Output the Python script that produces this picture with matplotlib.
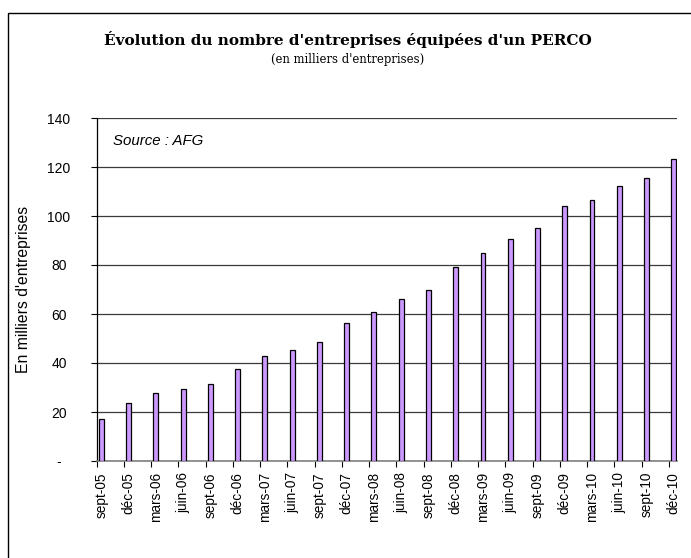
import matplotlib
matplotlib.use("Agg")
import matplotlib.pyplot as plt
from matplotlib.patches import Rectangle
from matplotlib.ticker import FixedLocator, FuncFormatter

categories = ["sept-05", "déc-05", "mars-06", "juin-06", "sept-06", "déc-06",
              "mars-07", "juin-07", "sept-07", "déc-07", "mars-08", "juin-08",
              "sept-08", "déc-08", "mars-09", "juin-09", "sept-09", "déc-09",
              "mars-10", "juin-10", "sept-10", "déc-10"]
values = [17.1, 23.5, 27.6, 29.3, 31.3, 37.6, 42.7, 45.4, 48.4, 56.2, 60.9,
          66.1, 69.8, 79.1, 84.8, 90.5, 95.2, 104.1, 106.7, 112.4, 115.5, 123.3]
y_ticks = [0, 20, 40, 60, 80, 100, 120, 140]

title = "Évolution du nombre d'entreprises équipées d'un PERCO"
subtitle = "(en milliers d'entreprises)"
ylabel = "En milliers d'entreprises"
source = "Source : AFG"

W, H = 691, 558
fig = plt.figure(figsize=(W / 100, H / 100), dpi=100)
fig.patch.set_facecolor("white")

# outer frame (cropped at right and bottom)
fig.add_artist(Rectangle((8 / W, -0.05), 1.2, (H - 12.7) / H + 0.05,
                         transform=fig.transFigure, fill=False,
                         edgecolor="black", linewidth=1.0))

ax_l, ax_r, ax_t, ax_b = 96.5, 677, 118, 461
ax = fig.add_axes([ax_l / W, (H - ax_b) / H, (ax_r - ax_l) / W, (ax_b - ax_t) / H])

n = len(categories)
offset = 0.18
xs = [i + offset for i in range(n)]
ax.bar(xs, values, width=0.18, color="#cc99ff", edgecolor="black",
       linewidth=0.9, zorder=3)

ax.set_xlim(0, 21.3)
ax.set_ylim(0, 140)

ax.yaxis.set_major_locator(FixedLocator(y_ticks))
ax.yaxis.set_major_formatter(FuncFormatter(lambda v, p: "-" if v == 0 else f"{int(v)}"))
ax.grid(axis="y", color="#3a3a3a", linewidth=0.9, zorder=1)
ax.tick_params(axis="y", length=4, width=0.8, direction="out", pad=23,
               labelsize=10, colors="black")
for lbl in ax.get_yticklabels():
    lbl.set_fontfamily("Liberation Sans")
    lbl.set_horizontalalignment("center")

ax.set_xticks(xs)
ax.set_xticklabels(categories, rotation=90, fontsize=9.8,
                   fontfamily="Liberation Sans")
ax.tick_params(axis="x", length=0, pad=8)
ax.set_xticks(list(range(n)), minor=True)
ax.tick_params(axis="x", which="minor", length=4, width=0.8, direction="out",
               color="black")

for s in ["top", "right"]:
    ax.spines[s].set_visible(False)
ax.spines["left"].set_color("black")
ax.spines["left"].set_linewidth(0.9)
ax.spines["bottom"].set_color("#808080")
ax.spines["bottom"].set_linewidth(1.2)

ax.set_ylabel(ylabel, fontsize=11.3, fontfamily="Liberation Sans")
ax.yaxis.set_label_coords((31 - ax_l) / (ax_r - ax_l), 0.5)

ax.text((113 - ax_l) / (ax_r - ax_l), (ax_b - 141) / (ax_b - ax_t), source,
        transform=ax.transAxes, fontsize=10.8, fontstyle="italic",
        fontfamily="Liberation Sans", va="center", ha="left")

fig.text(347.5 / W, 1 - 40 / H, title, ha="center", va="center",
         fontsize=11.0, fontweight="bold", fontfamily="DejaVu Serif")
fig.text(347.5 / W, 1 - 59 / H, subtitle, ha="center", va="center",
         fontsize=8.4, fontfamily="DejaVu Serif")

fig.savefig("out.png", dpi=100)
